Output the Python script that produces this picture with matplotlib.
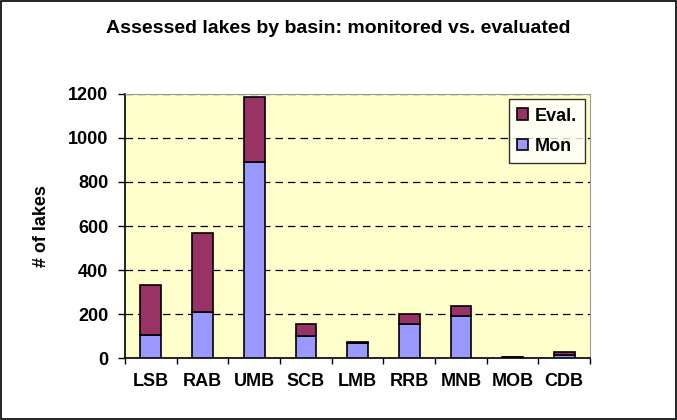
import numpy as np
import matplotlib
matplotlib.use('Agg')
import matplotlib.pyplot as plt
from matplotlib.patches import Rectangle

plt.rc('font', family=['Liberation Sans', 'DejaVu Sans'], weight='bold')

basins = ['LSB', 'RAB', 'UMB', 'SCB', 'LMB', 'RRB', 'MNB', 'MOB', 'CDB']
mon = [105, 208, 892, 100, 67, 153, 191, 3, 12]
evl = [225, 362, 293, 53, 7, 47, 47, 2, 17]

fig = plt.figure(figsize=(6.77, 4.2), dpi=100)
ax = fig.add_axes([0.1846, 0.1476, 0.687, 0.6286])
ax.set_facecolor('#FFFFCC')

x = np.arange(len(basins))
b1 = ax.bar(x, mon, 0.4, color='#9999FF', edgecolor='black', linewidth=1.2, label='Mon', zorder=3)
b2 = ax.bar(x, evl, 0.4, bottom=mon, color='#993366', edgecolor='black', linewidth=1.2, label='Eval.', zorder=3)

ax.set_xlim(-0.5, len(basins) - 0.5)
ax.set_ylim(0, 1200)
ax.set_yticks(np.arange(0, 1201, 200))
ax.set_yticklabels([str(v) for v in range(0, 1201, 200)], fontsize=13, fontweight='bold')
ax.set_xticks(x)
ax.set_xticklabels(basins, fontsize=13, fontweight='bold')
ax.tick_params(axis='x', which='major', length=0, pad=11)
ax.set_xticks(np.arange(-0.5, len(basins)), minor=True)
ax.tick_params(axis='x', which='minor', length=4, width=1, direction='out')
ax.tick_params(axis='y', length=5, width=1, direction='out', pad=7)

ax.yaxis.grid(True, linestyle=(0, (6, 4)), color='black', linewidth=0.9, zorder=1)
ax.set_axisbelow(True)

for s in ['top', 'right']:
    ax.spines[s].set_color('#999999')
for s in ['left', 'bottom']:
    ax.spines[s].set_color('black')
    ax.spines[s].set_linewidth(1.2)

ax.set_ylabel('# of lakes', fontsize=13, fontweight='bold', labelpad=13)

leg = ax.legend([b2, b1], ['Eval.', 'Mon'], loc='upper right', fontsize=13,
                frameon=True, fancybox=False, edgecolor='black', facecolor='white',
                handlelength=0.6, handleheight=0.6, handletextpad=0.35,
                labelspacing=0.75, borderpad=0.45, borderaxespad=0.3)
leg.get_frame().set_linewidth(1.0)

fig.text(0.5, 0.931, 'Assessed lakes by basin: monitored vs. evaluated',
         ha='center', va='center', fontsize=14, fontweight='bold')

fig.patches.append(Rectangle((0.002, 0.003), 0.996, 0.994, transform=fig.transFigure,
                             fill=False, edgecolor='black', linewidth=1.2))

fig.savefig('out.png', dpi=100)
